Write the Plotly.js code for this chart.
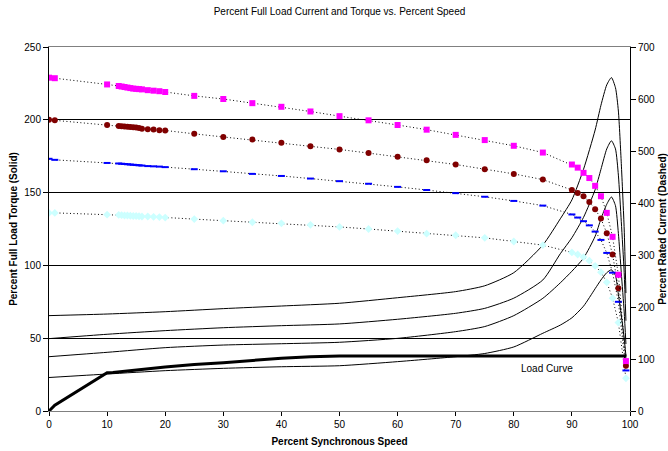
<!DOCTYPE html>
<html>
<head>
<meta charset="utf-8">
<script src="https://cdn.plot.ly/plotly-3.0.1.min.js"></script>
<style>html,body{margin:0;padding:0;background:#fff;}#chart{width:668px;height:451px;}</style>
</head>
<body>
<div id="chart"></div>
<script>
// Speeds (% synchronous) at which current was sampled
const speedPts = [0,1,10,12,12.5,13,13.5,14,14.5,15,15.5,16,17,18,19,20,25,30,35,40,45,50,55,60,65,70,75,80,85,90,91,92,93,94,95,96,97,98,99.3];
// Percent rated current (right axis)
const currentA = [641,640,628,625,624,623,622,621,620,619.5,619,618.5,617,616,615,613.5,606,600,592,585,576,567,559,550,541,531,521,510,497,474,468,458,448,433,413,381,335,262,96];
const currentB = [560,559,550,548,547.5,547,546.5,546,545.5,545,544,543,542,541.5,540,539.5,533,527,522,516,509,503,496,489,482,474,465,456,445,425,419,413,402,388,370,342,301,236,87];
const currentC = [485,483,477,476,475.5,475,474.5,474,473.5,473,472.5,472,471,470.5,470,469,465,461,456,452,447,442,437,431,425,419,412,404,395,378,372,365,357,345,329,304,266,210,78];
const currentD = [381,381,377.5,377,376.5,376,376,375.5,375,375,374.5,374,374,373.5,373,372,369,366,363,361,358,354,350,346,341,338,333,326,319,305,301,296,289,279,267,247.5,217,170,63];

// Speeds at which torque was read
const torqueX = [0,10,20,30,40,50,60,70,75,80,85,88,90,92,94,95,96,96.8,97.5,98,98.5,99,99.3];
// Percent full load torque (left axis)
const torqueA = [65.5,66.6,68.2,70.3,72.1,74,77.8,82,86,95,114,132,145,166,193,210,224,229,222,206,170,125,81];
const torqueB = [49.7,52.7,55.2,57.2,58.6,59.8,63,67.1,70.5,77.5,90,108,119,133,152,166,180,185.6,180,162,130,95,62];
const torqueC = [37.3,40.3,43.5,45.3,46.2,47.2,49.9,54.5,58,65.5,77.4,88,96,105,120,132,142,147,141,122,95,68,46];
const torqueD = [23,25.4,27.7,29.3,30.4,31.1,33.9,37.3,39.5,44,53.4,59,64,72,84,90,95,97,93,80,66,50,38];

// Load curve
const loadX = [0,1,10,11,20,25,30,35,40,45,50,99.4];
const loadY = [0,4,26.3,26.5,30.2,32,33.2,34.8,36.2,37.3,37.7,37.7];

const font = "Liberation Sans, Arial, sans-serif";

function torqueTrace(y){
  return {x: torqueX, y: y, type:'scatter', mode:'lines', yaxis:'y',
    line:{color:'#000', width:1, shape:'spline', smoothing:0.6}, hoverinfo:'skip'};
}
function currentTrace(y, marker){
  return {x: speedPts, y: y, type:'scatter', mode:'lines+markers', yaxis:'y2',
    line:{color:'#000', width:1, dash:'1px,2.5px'}, marker: marker, hoverinfo:'skip'};
}

const data = [
  torqueTrace(torqueA), torqueTrace(torqueB), torqueTrace(torqueC), torqueTrace(torqueD),
  {x: loadX, y: loadY, type:'scatter', mode:'lines', yaxis:'y', line:{color:'#000', width:3}, hoverinfo:'skip'},
  currentTrace(currentD, {symbol:'diamond', size:6, color:'#CCFFFF'}),
  currentTrace(currentC, {symbol:'line-ew', size:5, color:'#0000FF', line:{color:'#0000FF', width:2}}),
  currentTrace(currentB, {symbol:'circle', size:6, color:'#800000'}),
  currentTrace(currentA, {symbol:'square', size:6, color:'#FF00FF'})
];

const layout = {
  width: 668, height: 451,
  margin: {l:49, r:38, t:47, b:40},
  paper_bgcolor:'#fff', plot_bgcolor:'#fff',
  showlegend:false,
  font:{family: font, size:10, color:'#000'},
  title:{text:'Percent Full Load Current and Torque vs. Percent Speed', x:0.5, xref:'paper', y:0.975, yref:'container', yanchor:'middle', font:{family:font, size:10, color:'#000'}},
  xaxis:{range:[0,100], dtick:10, tick0:0, showgrid:false, zeroline:false,
    showline:true, linecolor:'#808080', linewidth:1, mirror:true,
    ticks:'outside', ticklen:4, tickcolor:'#000', tickfont:{size:10},
    title:{text:'<b>Percent Synchronous Speed</b>', font:{size:10}, standoff:8}},
  yaxis:{range:[0,250], dtick:50, tick0:0, showgrid:true, gridcolor:'#000', gridwidth:1, zeroline:false,
    showline:true, linecolor:'#000', linewidth:1, ticks:'outside', ticklen:5, tickcolor:'#000', tickfont:{size:10},
    title:{text:'<b>Percent Full Load Torque (Solid)</b>', font:{size:10}, standoff:4}},
  yaxis2:{range:[0,700], dtick:100, tick0:0, overlaying:'y', side:'right', showgrid:false, zeroline:false,
    showline:true, linecolor:'#000', linewidth:1, ticks:'outside', ticklen:5, tickcolor:'#000', tickfont:{size:10},
    title:{text:'<b>Percent Rated Current (Dashed)</b>', font:{size:10}, standoff:9}},
  annotations:[{x:85.7, y:29.3, xref:'x', yref:'y', text:'Load Curve', showarrow:false, font:{size:10, color:'#000'}}]
};

Plotly.newPlot('chart', data, layout, {displayModeBar:false, staticPlot:true});
</script>
</body>
</html>
